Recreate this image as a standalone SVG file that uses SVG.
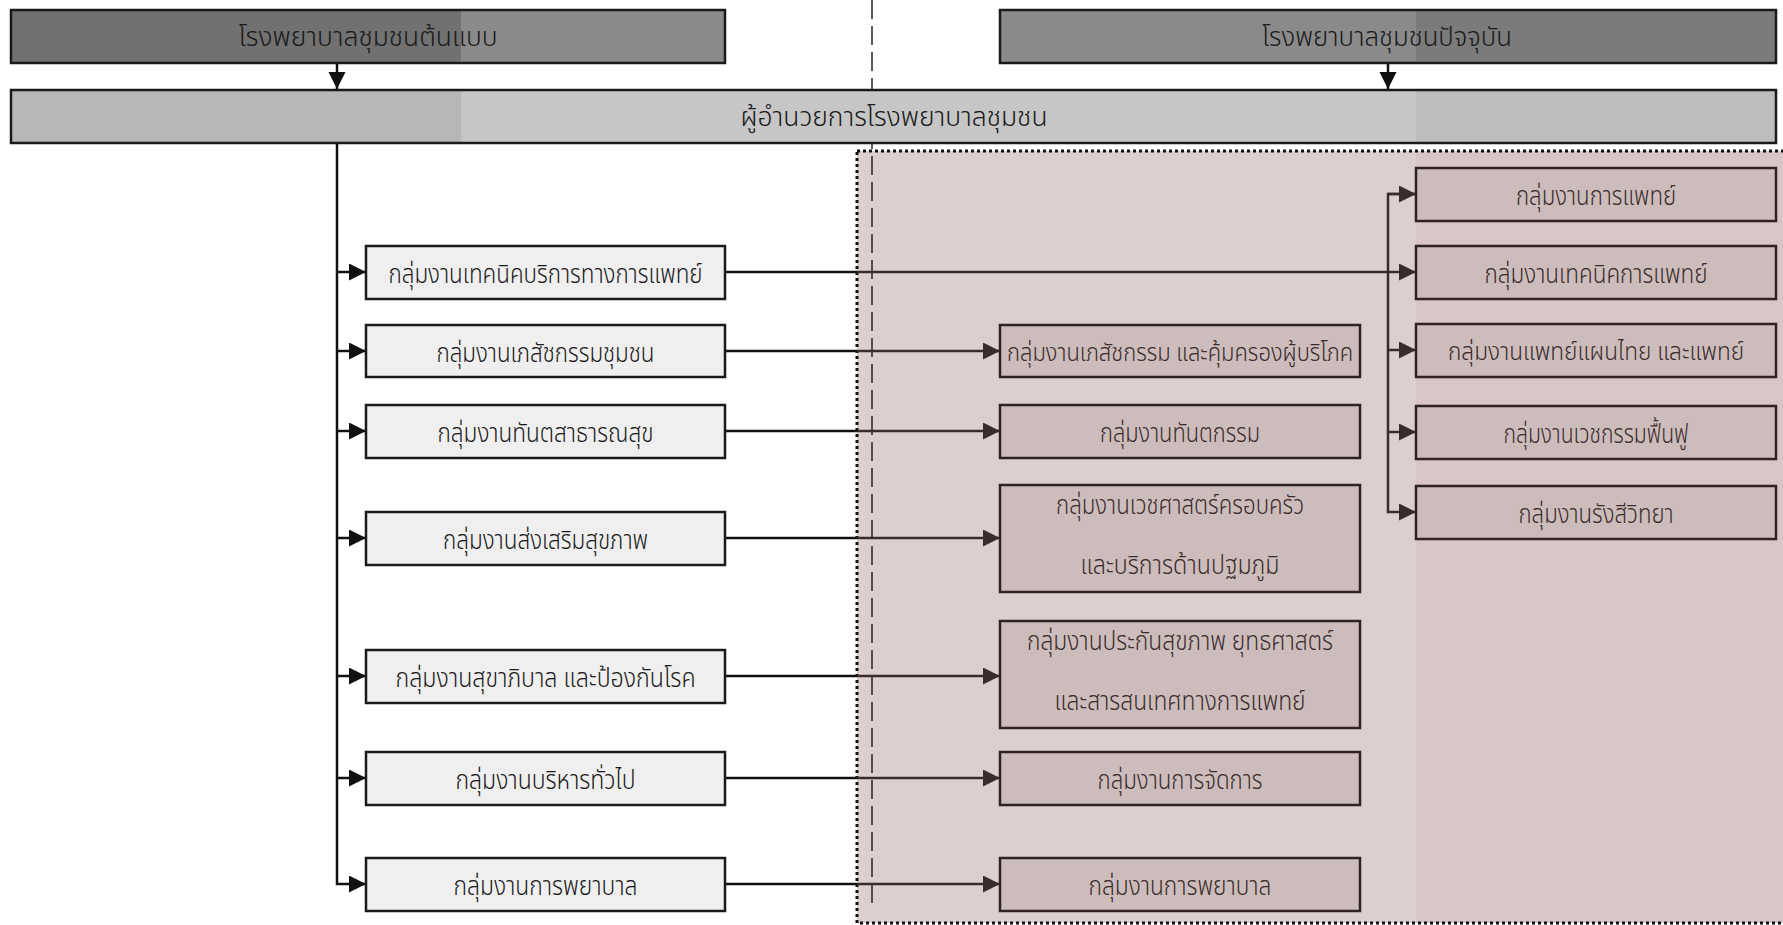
<svg xmlns="http://www.w3.org/2000/svg" width="1783" height="925" viewBox="0 0 1783 925">
<style>
text{font-family:"Noto Sans Thai","Noto Sans","DejaVu Sans",sans-serif;font-size:26px;font-weight:300;text-anchor:middle}
.t{fill:#1a1a1a}
.p{fill:#3a2c2c}
.box{stroke:#1a1a1a;stroke-width:2.5}
.lb{fill:#efefef}
.pb{fill:#cdbcbc;stroke:#2e2222;stroke-width:2.5}
.ln{fill:none;stroke:#111;stroke-width:2.5}
.lp{fill:none;stroke:#3a2c2c;stroke-width:2.5}
.lx{fill:none;stroke:url(#gx);stroke-width:2.5}
</style>
<defs>
<marker id="ak" markerUnits="userSpaceOnUse" markerWidth="18" markerHeight="18" refX="17" refY="8.5" orient="auto"><path d="M0,0 L17,8.5 L0,17 z" fill="#111"/></marker>
<marker id="ap" markerUnits="userSpaceOnUse" markerWidth="18" markerHeight="18" refX="17" refY="8.5" orient="auto"><path d="M0,0 L17,8.5 L0,17 z" fill="#3a2c2c"/></marker>
<linearGradient id="gx" gradientUnits="userSpaceOnUse" x1="0" y1="0" x2="1783" y2="0"><stop offset="0.4806" stop-color="#111"/><stop offset="0.4806" stop-color="#3a2c2c"/></linearGradient>
<linearGradient id="gd" gradientUnits="userSpaceOnUse" x1="0" y1="0" x2="0" y2="925"><stop offset="0.163" stop-color="#333"/><stop offset="0.163" stop-color="#3a2c2c"/></linearGradient>
<linearGradient id="gt1" gradientUnits="userSpaceOnUse" x1="0" y1="0" x2="1783" y2="0"><stop offset="0.2586" stop-color="#717171"/><stop offset="0.2586" stop-color="#8a8a8a"/></linearGradient>
<linearGradient id="gt2" gradientUnits="userSpaceOnUse" x1="0" y1="0" x2="1783" y2="0"><stop offset="0.794" stop-color="#8a8a8a"/><stop offset="0.794" stop-color="#7b7b7b"/></linearGradient>
<linearGradient id="gdir" gradientUnits="userSpaceOnUse" x1="0" y1="0" x2="1783" y2="0"><stop offset="0.2586" stop-color="#b7b7b7"/><stop offset="0.2586" stop-color="#c6c6c6"/><stop offset="0.794" stop-color="#c6c6c6"/><stop offset="0.794" stop-color="#bdbdbd"/></linearGradient>
<linearGradient id="gpk" gradientUnits="userSpaceOnUse" x1="0" y1="0" x2="1783" y2="0"><stop offset="0.794" stop-color="#dccfcf"/><stop offset="0.794" stop-color="#d8c6c6"/></linearGradient>
</defs>
<rect x="0" y="0" width="1783" height="925" fill="#ffffff"/>
<g id="region-current">
<rect x="857" y="151" width="940" height="772" fill="url(#gpk)" stroke="#111" stroke-width="3" stroke-dasharray="3 3"/>
</g>
<g id="divider">
<line x1="872" y1="0" x2="872" y2="905" stroke="url(#gd)" stroke-width="1.6" stroke-dasharray="19 7"/>
</g>
<g id="connectors">
<path class="ln" d="M337,63 V89" marker-end="url(#ak)"/>
<path class="ln" d="M1388,63 V89" marker-end="url(#ak)"/>
<path class="ln" d="M337,143 V884 H366" marker-end="url(#ak)"/>
<path class="ln" d="M337,272 H366" marker-end="url(#ak)"/>
<path class="ln" d="M337,351 H366" marker-end="url(#ak)"/>
<path class="ln" d="M337,431 H366" marker-end="url(#ak)"/>
<path class="ln" d="M337,538 H366" marker-end="url(#ak)"/>
<path class="ln" d="M337,676 H366" marker-end="url(#ak)"/>
<path class="ln" d="M337,778 H366" marker-end="url(#ak)"/>
<path class="lx" d="M725,272 H1416" marker-end="url(#ap)"/>
<path class="lx" d="M725,351 H1000" marker-end="url(#ap)"/>
<path class="lx" d="M725,431 H1000" marker-end="url(#ap)"/>
<path class="lx" d="M725,538 H1000" marker-end="url(#ap)"/>
<path class="lx" d="M725,676 H1000" marker-end="url(#ap)"/>
<path class="lx" d="M725,778 H1000" marker-end="url(#ap)"/>
<path class="lx" d="M725,884 H1000" marker-end="url(#ap)"/>
<path class="lp" d="M1416,194 H1388 V512 H1416" marker-end="url(#ap)"/>
<path class="lp" d="M1388,194 H1416" marker-end="url(#ap)"/>
<path class="lp" d="M1388,350 H1416" marker-end="url(#ap)"/>
<path class="lp" d="M1388,432 H1416" marker-end="url(#ap)"/>
</g>
<g id="model-hospital">
<rect class="box" x="11" y="10" width="714" height="53" fill="url(#gt1)"/>
<text class="t" x="368" y="46" textLength="259" lengthAdjust="spacingAndGlyphs">โรงพยาบาลชุมชนต้นแบบ</text>
</g>
<g id="current-hospital">
<rect class="box" x="1000" y="10" width="776" height="53" fill="url(#gt2)"/>
<text class="t" x="1387" y="46" textLength="250" lengthAdjust="spacingAndGlyphs">โรงพยาบาลชุมชนปัจจุบัน</text>
</g>
<g id="director">
<rect class="box" x="11" y="90" width="1765" height="53" fill="url(#gdir)"/>
<text class="t" x="894" y="126" textLength="307" lengthAdjust="spacingAndGlyphs">ผู้อำนวยการโรงพยาบาลชุมชน</text>
</g>
<g id="old-1"><rect class="box lb" x="366" y="246" width="359" height="53"/><text class="t" x="545.5" y="283" textLength="314" lengthAdjust="spacingAndGlyphs">กลุ่มงานเทคนิคบริการทางการแพทย์</text></g>
<g id="old-2"><rect class="box lb" x="366" y="325" width="359" height="52"/><text class="t" x="545.5" y="362" textLength="218" lengthAdjust="spacingAndGlyphs">กลุ่มงานเภสัชกรรมชุมชน</text></g>
<g id="old-3"><rect class="box lb" x="366" y="405" width="359" height="53"/><text class="t" x="545.5" y="442" textLength="216" lengthAdjust="spacingAndGlyphs">กลุ่มงานทันตสาธารณสุข</text></g>
<g id="old-4"><rect class="box lb" x="366" y="512" width="359" height="53"/><text class="t" x="545.5" y="549" textLength="205" lengthAdjust="spacingAndGlyphs">กลุ่มงานส่งเสริมสุขภาพ</text></g>
<g id="old-5"><rect class="box lb" x="366" y="650" width="359" height="53"/><text class="t" x="545.5" y="687" textLength="300" lengthAdjust="spacingAndGlyphs">กลุ่มงานสุขาภิบาล และป้องกันโรค</text></g>
<g id="old-6"><rect class="box lb" x="366" y="752" width="359" height="53"/><text class="t" x="545.5" y="789" textLength="180" lengthAdjust="spacingAndGlyphs">กลุ่มงานบริหารทั่วไป</text></g>
<g id="old-7"><rect class="box lb" x="366" y="858" width="359" height="53"/><text class="t" x="545.5" y="895" textLength="184" lengthAdjust="spacingAndGlyphs">กลุ่มงานการพยาบาล</text></g>
<g id="new-1"><rect class="pb" x="1000" y="325" width="360" height="52"/><text class="p" x="1180" y="361" style="font-size:24px" textLength="346" lengthAdjust="spacingAndGlyphs">กลุ่มงานเภสัชกรรม และคุ้มครองผู้บริโภค</text></g>
<g id="new-2"><rect class="pb" x="1000" y="405" width="360" height="53"/><text class="p" x="1180" y="442" textLength="160" lengthAdjust="spacingAndGlyphs">กลุ่มงานทันตกรรม</text></g>
<g id="new-3"><rect class="pb" x="1000" y="485" width="360" height="107"/><text class="p" x="1180" y="514" textLength="248" lengthAdjust="spacingAndGlyphs">กลุ่มงานเวชศาสตร์ครอบครัว</text><text class="p" x="1180" y="574" textLength="199" lengthAdjust="spacingAndGlyphs">และบริการด้านปฐมภูมิ</text></g>
<g id="new-4"><rect class="pb" x="1000" y="621" width="360" height="107"/><text class="p" x="1180" y="650" textLength="306" lengthAdjust="spacingAndGlyphs">กลุ่มงานประกันสุขภาพ ยุทธศาสตร์</text><text class="p" x="1180" y="710" textLength="251" lengthAdjust="spacingAndGlyphs">และสารสนเทศทางการแพทย์</text></g>
<g id="new-5"><rect class="pb" x="1000" y="752" width="360" height="53"/><text class="p" x="1180" y="789" textLength="165" lengthAdjust="spacingAndGlyphs">กลุ่มงานการจัดการ</text></g>
<g id="new-6"><rect class="pb" x="1000" y="858" width="360" height="53"/><text class="p" x="1180" y="895" textLength="183" lengthAdjust="spacingAndGlyphs">กลุ่มงานการพยาบาล</text></g>
<g id="med-1"><rect class="pb" x="1416" y="168" width="360" height="53"/><text class="p" x="1596" y="205" textLength="160" lengthAdjust="spacingAndGlyphs">กลุ่มงานการแพทย์</text></g>
<g id="med-2"><rect class="pb" x="1416" y="246" width="360" height="53"/><text class="p" x="1596" y="283" textLength="223" lengthAdjust="spacingAndGlyphs">กลุ่มงานเทคนิคการแพทย์</text></g>
<g id="med-3"><rect class="pb" x="1416" y="324" width="360" height="53"/><text class="p" x="1596" y="360" style="font-size:24px" textLength="296" lengthAdjust="spacingAndGlyphs">กลุ่มงานแพทย์แผนไทย และแพทย์</text></g>
<g id="med-4"><rect class="pb" x="1416" y="406" width="360" height="53"/><text class="p" x="1596" y="443" textLength="185" lengthAdjust="spacingAndGlyphs">กลุ่มงานเวชกรรมฟื้นฟู</text></g>
<g id="med-5"><rect class="pb" x="1416" y="486" width="360" height="53"/><text class="p" x="1596" y="523" textLength="155" lengthAdjust="spacingAndGlyphs">กลุ่มงานรังสีวิทยา</text></g>
</svg>
